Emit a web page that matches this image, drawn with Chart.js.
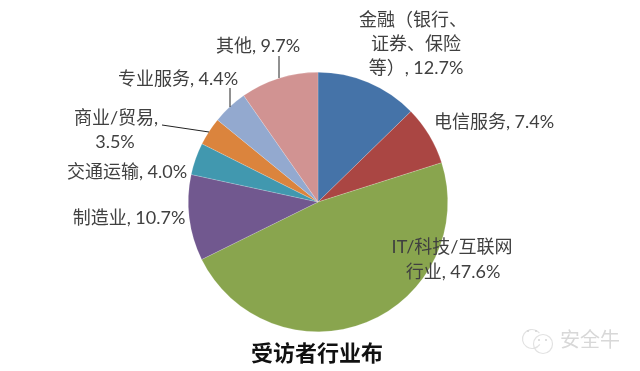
<!DOCTYPE html>
<html lang="zh">
<head>
  <meta charset="UTF-8" />
  <title>受访者行业布</title>
  <script src="https://cdn.jsdelivr.net/npm/chart.js"></script>
  <style>
    html, body { margin: 0; padding: 0; background: #fff; overflow: hidden; }
    canvas { display: block; }
  </style>
</head>
<body>
<canvas id="pie" width="640" height="371"></canvas>
<script>
  const categories = ['金融（银行、证券、保险等）', '电信服务', 'IT/科技/互联网行业', '制造业', '交通运输', '商业/贸易', '专业服务', '其他'];
  const shares = [12.7, 7.4, 47.6, 10.7, 4.0, 3.5, 4.4, 9.7];
  const sliceColors = ['#4573A8', '#AA4643', '#89A54E', '#71588F', '#4198AF', '#DB843D', '#93A9CF', '#D19392'];
  const chartTitle = '受访者行业布';
  const watermark = '安全牛';

  // 标签换行，每行 [文字, 中心x, 中心y]
  const labelLines = [
    ['金融（银行、', 413, 20], ['证券、保险', 416, 44], ['等）, 12.7%', 416, 68],
    ['电信服务, 7.4%', 494, 122],
    ['IT/科技/互联网', 452, 247], ['行业, 47.6%', 453, 272],
    ['制造业, 10.7%', 129, 218],
    ['交通运输, 4.0%', 127, 172],
    ['商业/贸易,', 116, 118], ['3.5%', 115, 142],
    ['专业服务, 4.4%', 178, 79],
    ['其他, 9.7%', 258, 46]
  ];
  const leaders = [
    [279, 56, 279, 78],
    [230, 88, 230, 107],
    [162, 125, 209, 132]
  ];

  const annotate = {
    id: 'annotate',
    afterDraw(chart) {
      const c = chart.ctx;
      c.save();
      c.strokeStyle = '#222';
      c.lineWidth = 1;
      leaders.forEach(l => {
        c.beginPath();
        c.moveTo(l[0], l[1]);
        c.lineTo(l[2], l[3]);
        c.stroke();
      });

      c.textAlign = 'center';
      c.textBaseline = 'middle';
      c.fillStyle = '#404040';
      c.font = '18px Lato, "Noto Sans CJK SC"';
      labelLines.forEach(l => c.fillText(l[0], l[1], l[2]));

      c.fillStyle = '#111';
      c.font = 'bold 22px "Noto Sans CJK SC"';
      c.fillText(chartTitle, 317, 353);

      // 水印
      c.fillStyle = '#d8d8d8';
      c.font = '20px "Noto Sans CJK SC"';
      c.fillText(watermark, 590, 339);
      c.strokeStyle = '#e2e2e2';
      c.fillStyle = '#d4d4d4';
      c.lineWidth = 1.2;
      c.beginPath();
      c.arc(532, 339, 9.5, 0.6, 5.6);
      c.stroke();
      c.beginPath();
      c.arc(543, 344, 9.5, 0, Math.PI * 2);
      c.stroke();
      [[528, 331], [536, 331], [539, 340], [546, 340]].forEach(p => {
        c.beginPath();
        c.arc(p[0], p[1], 1, 0, Math.PI * 2);
        c.fill();
      });
      c.restore();
    }
  };

  new Chart(document.getElementById('pie'), {
    type: 'pie',
    data: {
      labels: categories,
      datasets: [{
        data: shares,
        backgroundColor: sliceColors,
        borderColor: 'rgba(255,255,255,0.35)',
        borderWidth: 0.5
      }]
    },
    options: {
      responsive: false,
      animation: false,
      layout: { padding: { left: 188, right: 192, top: 72, bottom: 39 } },
      plugins: {
        legend: { display: false },
        tooltip: { enabled: false }
      }
    },
    plugins: [annotate]
  });
</script>
</body>
</html>
